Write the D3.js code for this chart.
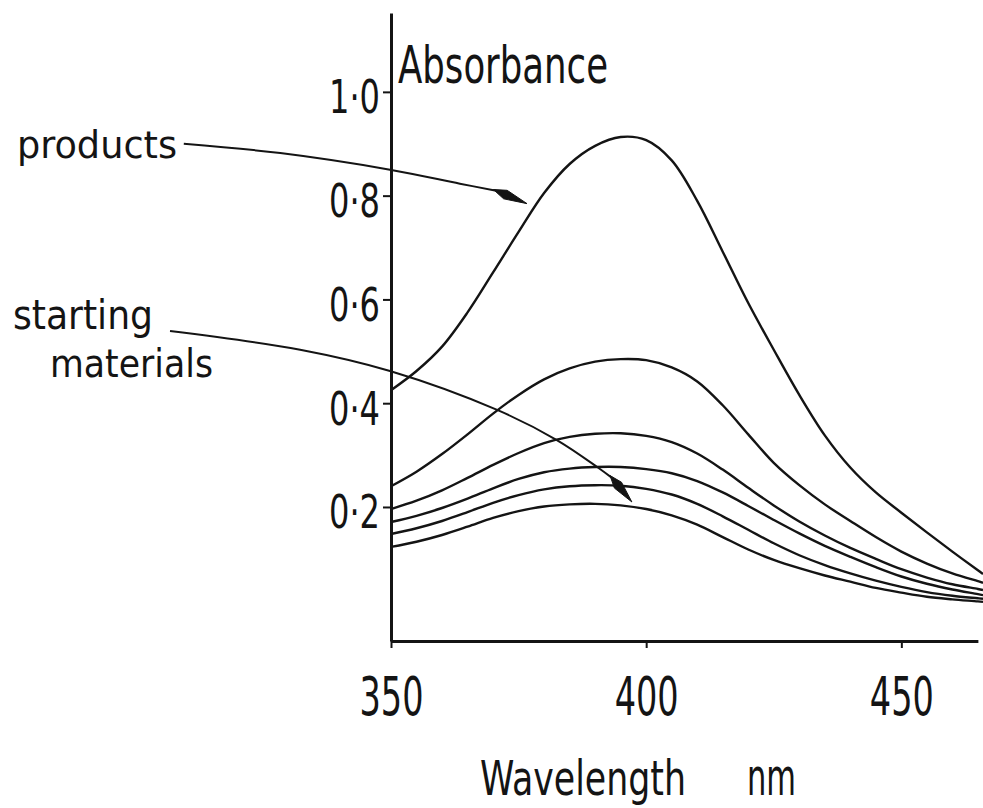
<!DOCTYPE html>
<html><head><meta charset="utf-8">
<script src="https://cdn.jsdelivr.net/npm/d3@7"></script>
<style>html,body{margin:0;padding:0;background:#fff;overflow:hidden}</style>
</head><body>
<svg id="chart" width="983" height="808"></svg>
<script>
// ---- data ----
const wavelengths = [350,355,360,365,370,375,380,385,390,395,400,405,410,415,420,425,430,435,440,445,450,455,460,465,466];
const products    = [0.425,0.462,0.509,0.575,0.652,0.730,0.805,0.861,0.896,0.913,0.907,0.868,0.790,0.692,0.593,0.503,0.416,0.338,0.276,0.228,0.189,0.151,0.114,0.078,0.071];
const stage2      = [0.240,0.268,0.302,0.340,0.380,0.416,0.446,0.467,0.480,0.485,0.483,0.469,0.442,0.396,0.340,0.285,0.242,0.205,0.173,0.142,0.114,0.091,0.072,0.057,0.054];
const stage3      = [0.196,0.212,0.232,0.256,0.281,0.304,0.323,0.335,0.341,0.342,0.337,0.325,0.303,0.272,0.237,0.203,0.172,0.145,0.121,0.100,0.080,0.064,0.051,0.042,0.040];
const stage4      = [0.171,0.183,0.198,0.216,0.236,0.254,0.267,0.274,0.277,0.277,0.273,0.265,0.250,0.228,0.202,0.175,0.149,0.125,0.104,0.084,0.066,0.052,0.041,0.032,0.030];
const stage5      = [0.148,0.159,0.173,0.190,0.208,0.223,0.234,0.240,0.242,0.241,0.235,0.224,0.206,0.182,0.156,0.130,0.107,0.088,0.072,0.058,0.046,0.036,0.029,0.024,0.023];
const starting    = [0.123,0.133,0.146,0.162,0.179,0.192,0.201,0.205,0.206,0.203,0.196,0.184,0.166,0.142,0.118,0.098,0.082,0.068,0.056,0.044,0.035,0.027,0.022,0.018,0.017];
const seriesList  = [products, stage2, stage3, stage4, stage5, starting];

const yTicks      = [0.2, 0.4, 0.6, 0.8, 1.0];
const yTickLabels = ["0·2", "0·4", "0·6", "0·8", "1·0"];
const xTicks      = [350, 400, 450];
const xTickLabels = ["350", "400", "450"];

// annotation arrows, in data units (wavelength nm, absorbance)
const productsArrow = [[309.4,0.900],[328.3,0.882],[349.8,0.850],[363.5,0.823],[370.6,0.8096],[376.65,0.7846]];
const startingArrow = [[306.7,0.539],[332.2,0.503],[349.8,0.462],[370.8,0.387],[382.5,0.329],[390.4,0.277],[393.3,0.256],[397.2,0.2096]];

// ---- drawing ----
const FONT = "'Liberation Sans Narrow','DejaVu Sans Condensed','Liberation Sans','DejaVu Sans',sans-serif";
const INK = "#141414";
const svg = d3.select("#chart");

const x = d3.scaleLinear().domain([350, 466]).range([391, 983]);
const y = d3.scaleLinear().domain([-0.0583, 1.152]).range([641, 13]);

// curves
const line = d3.line()
  .x((d, i) => x(wavelengths[i]))
  .y(d => y(d))
  .curve(d3.curveCatmullRom.alpha(0.5));

svg.append("g").selectAll("path").data(seriesList).join("path")
  .attr("d", d => line(d))
  .attr("fill", "none")
  .attr("stroke", INK)
  .attr("stroke-width", 2.4)
  .attr("stroke-linejoin", "round");

// y axis
const yAxis = svg.append("g").attr("transform", `translate(${x(350)},0)`)
  .call(d3.axisLeft(y).tickValues(yTicks).tickFormat((d, i) => yTickLabels[i]).tickSize(8).tickSizeOuter(0));
yAxis.select(".domain").attr("stroke", INK).attr("stroke-width", 3);
yAxis.selectAll(".tick line").attr("stroke", INK).attr("stroke-width", 2);
yAxis.selectAll(".tick text")
  .attr("x", -11).attr("dy", null).attr("y", 21)
  .attr("font-family", FONT).attr("font-size", 47).attr("fill", INK)
  .attr("textLength", 51).attr("lengthAdjust", "spacingAndGlyphs");

// x axis
const xAxisScale = x.copy().domain([350, 465]).range([x(350), x(465)]);
const xAxis = svg.append("g").attr("transform", `translate(0,${y.range()[0]})`)
  .call(d3.axisBottom(xAxisScale).tickValues(xTicks).tickFormat((d, i) => xTickLabels[i]).tickSize(7).tickSizeOuter(0));
xAxis.select(".domain").attr("stroke", INK).attr("stroke-width", 3);
xAxis.selectAll(".tick line").attr("stroke", INK).attr("stroke-width", 2);
xAxis.selectAll(".tick text")
  .attr("dy", null).attr("y", 74)
  .attr("font-family", FONT).attr("font-size", 53).attr("fill", INK)
  .attr("textLength", 64).attr("lengthAdjust", "spacingAndGlyphs");
svg.selectAll("g").attr("font-family", FONT);

// titles and annotation labels
function label(txt, px, py, size, len) {
  svg.append("text").text(txt)
    .attr("x", px).attr("y", py)
    .attr("font-family", FONT).attr("font-size", size).attr("fill", INK)
    .attr("textLength", len).attr("lengthAdjust", "spacingAndGlyphs");
}
label("Absorbance", 398, 83, 52, 210);
label("Wavelength", 480, 795, 48, 206);
label("nm", 747, 795, 52, 49);
label("products", 17, 158, 37, 160);
label("starting", 13, 329, 40, 140);
label("materials", 50, 377, 39, 163);

// arrows
const aLine = d3.line().x(d => x(d[0])).y(d => y(d[1])).curve(d3.curveCatmullRom.alpha(0.5));
function arrow(pts) {
  const body = pts.slice(0, -1);
  svg.append("path").attr("d", aLine(body))
    .attr("fill", "none").attr("stroke", INK).attr("stroke-width", 2);
  const b = body[body.length - 1], t = pts[pts.length - 1];
  const bx = x(b[0]), by = y(b[1]), tx = x(t[0]), ty = y(t[1]);
  const L = Math.hypot(tx - bx, ty - by), ux = (tx - bx) / L, uy = (ty - by) / L;
  const nx = -uy, ny = ux, w = 4.6;
  const mx = bx + ux * L * 0.3, my = by + uy * L * 0.3;
  svg.append("path")
    .attr("d", `M${bx - ux * 3},${by - uy * 3} L${mx + nx * w},${my + ny * w} L${tx},${ty} L${mx - nx * w},${my - ny * w} Z`)
    .attr("fill", INK).attr("stroke", INK).attr("stroke-width", 1).attr("stroke-linejoin", "round");
}
arrow(productsArrow);
arrow(startingArrow);
</script>
</body></html>
